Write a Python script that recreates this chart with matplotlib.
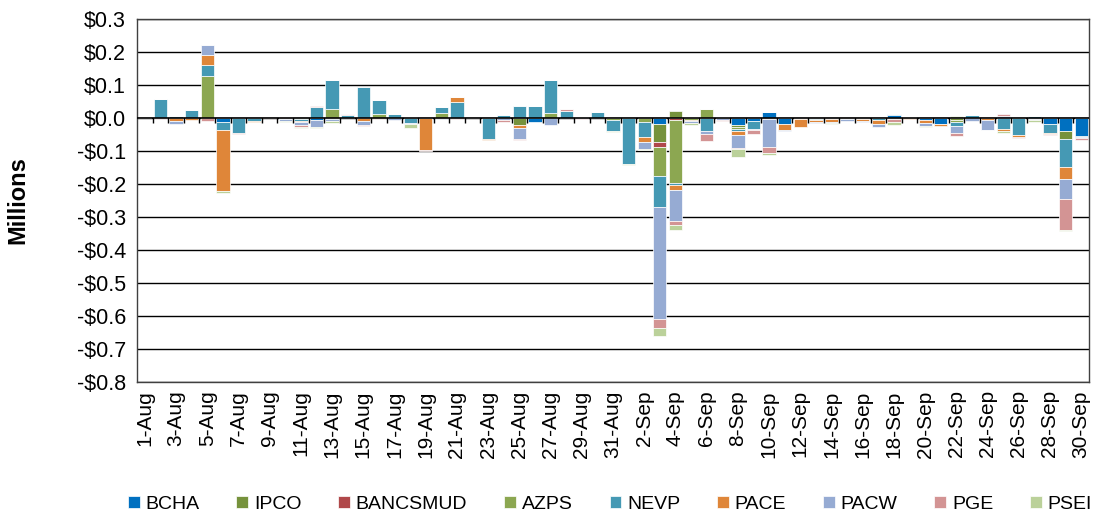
import matplotlib.pyplot as plt
import numpy as np
from matplotlib.ticker import FuncFormatter

# dates 1-Aug .. 30-Sep
days = [f"{d}-Aug" for d in range(1, 32)] + [f"{d}-Sep" for d in range(1, 31)]

series = ['BCHA', 'IPCO', 'BANCSMUD', 'AZPS', 'NEVP', 'PACE', 'PACW', 'PGE', 'PSEI']
colors = ['#0070C0', '#76923C', '#B0484A', '#8CA751', '#4599B4',
          '#DF8639', '#96ABD3', '#D39494', '#BBD19A']

# values in millions, one entry per day
BCHA = [0, 0, 0, 0, 0, -0.012, 0, 0, 0, 0,
        0, -0.007, -0.003, 0, 0, 0, 0, 0, 0, 0,
        0, 0, 0, 0, 0, -0.012, 0, 0, 0, 0,
        0, 0, 0, -0.017, 0, 0.003, 0, 0, -0.020, -0.010,
        0.018, -0.017, 0, 0, 0, 0, 0, 0, 0.008, 0,
        -0.007, -0.017, 0, 0, 0, 0, 0, 0, -0.018, -0.040,
        -0.054]
IPCO = [0, 0, 0, 0, 0, 0, 0, 0, 0, 0,
        0, 0, 0, 0, 0, 0, 0, 0, 0, 0,
        0, 0, 0, 0, -0.020, 0, 0, 0, 0, 0,
        0, 0, 0, -0.056, 0.022, 0, 0, 0, -0.008, 0,
        0, 0, 0, 0, 0, 0, 0, 0, 0, 0,
        0, 0, -0.006, 0, 0, 0, 0, -0.003, 0, -0.025,
        0]
BANCSMUD = [0, 0, 0, 0, 0, 0, 0, 0, 0, 0,
            0, 0, 0, 0, 0, 0, 0, 0.003, 0, 0,
            0, 0, 0, 0, 0, 0, 0, 0, 0, 0,
            0, 0, 0, -0.016, -0.005, 0, 0, 0, 0, 0,
            0, 0, 0, 0, 0, 0, 0, 0, 0, 0,
            0, 0, 0, 0, 0, 0, 0, 0, 0, 0,
            0]
AZPS = [0, 0, 0, 0, 0.127, 0, 0, 0, 0, 0,
        -0.003, 0, 0.026, 0, 0, 0.012, 0, 0, 0, 0.015,
        0, 0, 0, 0, 0, 0, 0.016, 0, 0, 0,
        -0.006, 0, -0.012, -0.086, -0.192, -0.006, 0.028, 0.002, -0.006, 0,
        0, 0, -0.002, -0.003, 0, 0, 0, 0, -0.003, 0.003,
        0, 0, -0.005, 0, 0, 0, 0, 0, 0, 0,
        0]
NEVP = [0, 0.057, 0.007, 0.025, 0.033, -0.025, -0.045, -0.009, 0, -0.004,
        -0.006, 0.033, 0.090, 0.010, 0.094, 0.042, 0.011, -0.014, 0, 0.019,
        0.047, 0, -0.063, 0.010, 0.036, 0.035, 0.099, 0.021, 0.003, 0.019,
        -0.034, -0.138, -0.045, -0.095, -0.005, 0, -0.040, 0, -0.005, -0.022,
        0, 0, -0.002, -0.003, -0.003, -0.003, -0.004, -0.007, 0.004, 0,
        0, -0.002, -0.012, 0.010, 0, -0.034, -0.051, 0.007, -0.027, -0.083,
        -0.004]
PACE = [0, 0, -0.008, -0.006, 0.030, -0.183, 0, -0.003, 0, 0,
        -0.004, 0, 0, 0, -0.010, 0, 0, 0, -0.096, 0,
        0.017, 0, -0.004, 0, -0.009, 0, 0, 0, 0, 0,
        0, 0, -0.015, 0, -0.015, -0.004, 0, 0, -0.011, 0,
        -0.003, -0.018, -0.023, -0.006, -0.008, 0, -0.004, -0.010, 0, -0.003,
        -0.008, -0.004, 0, 0, -0.007, -0.005, -0.007, 0, -0.004, -0.036,
        0]
PACW = [0, 0, -0.009, 0, 0.031, 0, 0, 0, 0, -0.004,
        -0.008, -0.021, -0.006, 0, -0.010, 0, -0.006, -0.005, 0, -0.003,
        0, 0, 0, -0.005, -0.034, 0, -0.020, 0, 0, 0,
        0, 0, -0.021, -0.340, -0.094, -0.006, -0.007, -0.006, -0.040, -0.005,
        -0.085, -0.005, 0, -0.002, -0.005, -0.005, -0.003, -0.010, 0, 0,
        -0.008, 0, -0.023, -0.008, -0.028, 0.006, 0, -0.003, 0, -0.061,
        -0.004]
PGE = [0, -0.002, 0, 0, -0.008, 0, -0.004, 0, 0, 0.003,
       -0.005, 0.004, 0, 0.003, -0.005, -0.002, 0, 0, -0.003, 0,
       -0.002, 0, 0, -0.008, -0.005, 0, 0, 0.007, -0.003, 0,
       0, 0, 0, -0.025, -0.012, 0, -0.022, -0.003, -0.005, -0.010,
       -0.017, 0, 0, 0, 0, 0, 0, 0, -0.008, 0,
       0, 0, -0.009, 0, 0, 0.006, -0.004, 0, -0.004, -0.093,
       -0.004]
PSEI = [0, 0, 0, 0, 0, -0.008, 0, 0, 0, -0.005,
        -0.004, -0.003, -0.006, 0, 0, 0, 0, -0.010, 0, 0,
        0, 0, 0, 0, 0, 0, 0, 0, 0, 0,
        -0.002, -0.003, -0.003, -0.025, -0.015, -0.006, 0, 0, -0.022, 0,
        -0.006, 0, 0, 0, -0.002, 0, 0, 0, -0.009, 0,
        -0.004, 0, 0.006, 0, -0.002, -0.005, 0, -0.005, 0, -0.003,
        0]

data = [BCHA, IPCO, BANCSMUD, AZPS, NEVP, PACE, PACW, PGE, PSEI]

plt.rcParams['font.family'] = ['Liberation Sans', 'DejaVu Sans']

fig = plt.figure(figsize=(10.99, 5.25), dpi=100)
ax = fig.add_axes([0.1247, 0.2724, 0.8662, 0.6914])

x = np.arange(len(days))
pos = np.zeros(len(days))
neg = np.zeros(len(days))
for name, vals, col in zip(series, data, colors):
    v = np.array(vals)
    base = np.where(v >= 0, pos, neg)
    ax.bar(x, v, 0.85, bottom=base, color=col, label=name,
           edgecolor='white', linewidth=0.5, zorder=2)
    pos += np.where(v >= 0, v, 0)
    neg += np.where(v < 0, v, 0)

ax.set_xlim(-0.5, len(days) - 0.5)
ax.set_ylim(-0.8, 0.3)
ax.set_yticks(np.arange(-0.8, 0.31, 0.1))
ax.yaxis.set_major_formatter(FuncFormatter(
    lambda v, p: ('-$%.1f' % abs(v)) if v < -1e-9 else '$%.1f' % abs(v)))
ax.grid(axis='y', color='black', linewidth=1, zorder=0)
ax.set_axisbelow(True)

# zero axis line with category tick marks
ax.axhline(0, color='black', linewidth=1.2, zorder=3)
ax.vlines(np.arange(0.5, len(days) - 1, 1), -0.015, 0, color='black',
          linewidth=1, zorder=3)

ax.set_xticks(x[::2])
ax.set_xticklabels(days[::2], rotation=90, fontsize=15)
ax.tick_params(axis='x', length=0, pad=6)
ax.tick_params(axis='y', length=0, labelsize=15.5, pad=8)
ax.set_ylabel('Millions', fontsize=17, fontweight='bold', labelpad=34)

for s in ax.spines.values():
    s.set_color('#404040')
    s.set_linewidth(1)

fig.legend(loc='lower center', ncol=9, frameon=False, fontsize=14,
           handlelength=0.6, handleheight=0.6, handletextpad=0.3,
           columnspacing=1.9, bbox_to_anchor=(0.555, -0.01))

fig.savefig('out.png', dpi=100)
